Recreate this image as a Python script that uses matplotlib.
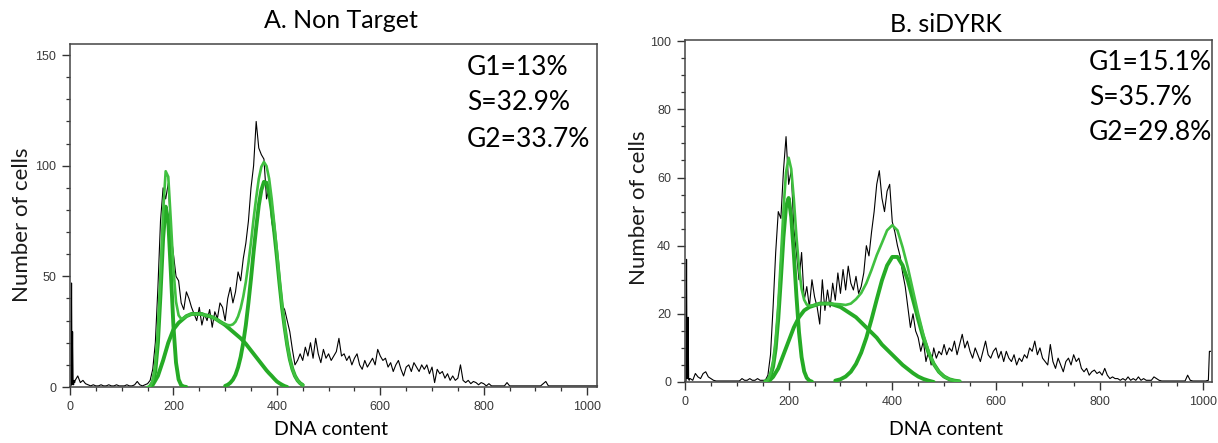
import numpy as np
import matplotlib
matplotlib.use("Agg")
import matplotlib.pyplot as plt
from matplotlib.ticker import MultipleLocator

# ---------------- Data ----------------
titles = ["A. Non Target", "B. siDYRK"]
labels_A = ["G1=13%", "S=32.9%", "G2=33.7%"]
labels_B = ["G1=15.1%", "S=35.7%", "G2=29.8%"]
xlabel = "DNA content"
ylabel = "Number of cells"

# Panel A histogram (black line)
histA_start_x = [0, 2, 3, 4, 5, 6, 7, 8, 9]
histA_start_y = [0, 0.5, 47, 1, 25, 2, 1, 3, 2]
histA_step = 5
histA_from = 10
histA_y = [
    3, 5, 2, 3, 1.5, 1, 0.5, 1, 0.5, 0.5, 1, 0.5, 0.5, 1, 0.5, 0.5, 1, 0.5, 0.5, 0.5,
    1, 0.5, 0.5, 1, 2.5, 1, 0.5, 1,
    1.5, 3, 8, 20, 45, 75, 90, 85, 92, 70, 60, 50, 48, 38, 35, 43, 40, 36, 33, 30,
    36, 28, 33, 30, 35, 27, 34, 31, 38, 36, 30, 40, 45, 38, 43, 52, 48, 58, 65, 75,
    90, 100, 120, 108, 105, 103, 85, 90, 75, 68, 60, 45, 37, 35, 30, 25, 17, 10, 12, 15,
    12, 18, 14, 20, 13, 22, 15, 11, 17, 13, 15, 12, 14, 16, 22, 14, 15, 12, 14, 10,
    13, 15, 10, 8, 12, 9, 11, 13, 10, 17, 14,
    12, 13, 9, 11, 7, 10, 12, 8, 5, 9, 10, 7, 11, 9, 7, 10, 8, 10, 6, 9,
    2, 8, 6, 7, 4, 6, 3, 5, 3, 4, 10, 3,
    2, 3, 1.5, 2.5, 2, 1, 2, 1.5, 0.5, 1.5, 0.5, 0.5, 0.5, 0.5, 0.5, 0.5, 2, 0.5, 0.5, 0.5,
    0.5, 0.5, 0.5, 0.5, 0.5, 0.5, 0.5, 0.5, 0.5, 0.5, 1.5, 2.5, 0.5, 0.5,
    0.5, 0.5, 0.5, 0.5, 0.5, 0.5, 0.5, 0.5, 0.5, 0.5, 0.5, 0.5, 0.5, 0.5, 0.5, 0.5, 0.5, 0.5,
]

# Panel A model fit (green)
g1A_x = [155, 160, 165, 170, 175, 180, 185, 190, 195, 200, 205, 210, 215, 220, 225]
g1A_y = [0.4, 2, 7.2, 20, 42, 67, 81.5, 75, 52, 27.5, 11, 3.4, 0.8, 0.2, 0]
sA_x = list(range(155, 421, 5))
sA_y = [0, 1, 3, 5, 8.5, 12, 16, 20, 23, 26, 27.5, 29, 30, 31, 32, 32.5, 33, 33, 33, 33,
        33, 32.5, 32.3, 32, 31.5, 31, 30.3, 29.5, 28.8, 28, 27, 26, 25, 24, 23, 22, 20.8, 19.5,
        18, 16.5, 15, 13.5, 12, 10.5, 9, 7.5, 6.2, 5, 3.7, 2.5, 1.7, 1, 0.4, 0]
g2A_x = list(range(300, 451, 5))
g2A_y = [0.5, 1, 1.9, 3.3, 5.5, 8.9, 13.6, 20, 28, 38, 49, 61, 72, 82, 89, 92.7, 92.3, 88,
         80, 70, 59, 47, 36, 27, 19, 12.6, 8.1, 5, 3, 1.7, 0.9]
totA_x = list(range(150, 451, 5))
totA_y = [0, 0.4, 3, 10.2, 25, 50.5, 79, 97.5, 95, 75, 53.5, 38.5, 32.4, 30.8, 31.2, 32, 32.5, 33, 33, 33,
          33, 33, 32.5, 32.3, 32, 31.5, 31, 30.3, 29.5, 28.8, 28.5, 28, 27.9, 28.3, 29.5, 31.9, 35.6, 40.8,
          47.5, 56, 65.5, 76, 85.5, 94, 99.5, 101.7, 99.8, 94.2, 85, 73.7, 61.5, 48.7, 37, 27.4,
          19, 12.6, 8.1, 5, 3, 1.7, 0.9]

# Panel B histogram (black line)
histB_start_x = [0, 2, 3, 4, 5, 6, 7, 8, 9]
histB_start_y = [0, 0.3, 36, 1, 1, 19, 1, 0.5, 1]
histB_step = 5
histB_from = 10
histB_y = [
    1, 0.5, 2.5, 1.5, 1, 2.5, 3, 1.5, 1, 0.5, 0.3, 0.3, 0.3, 0.3, 0.3, 0.3, 0.3, 0.3, 0.3, 0.3,
    1, 0.5, 0.5, 1, 0.5, 0.5, 1, 0.5, 0.5,
    0.5, 2, 8, 22, 38, 50, 48, 62, 72, 58, 62, 45, 38, 30, 38, 24, 28, 22, 30, 25,
    22, 17, 30, 21, 27, 22, 29, 24, 32, 26, 33, 27, 34, 29, 27, 31, 26, 28, 32, 40,
    37, 44, 50, 58, 62, 54, 50, 56, 58, 47, 44, 40, 37, 32, 28, 22, 16, 20, 15, 13,
    9, 12, 6, 9, 5, 10, 7, 9, 8, 11, 8, 10, 9, 12, 8, 11, 14, 10, 12, 9,
    7, 10, 8, 6, 9, 12, 8, 7, 9, 10, 7, 9, 6, 9,
    7, 6, 8, 5, 7, 6, 8, 7, 10, 9, 12, 8, 10, 7, 6, 5, 11, 6, 4, 7,
    5, 3, 6, 7, 5, 8, 6, 7, 4, 3, 4, 2, 3, 3.5, 2.5, 3,
    2, 4, 2, 1, 1.5, 1, 1, 0.5, 1, 0.5, 1.5, 0.5, 1, 0.5, 1.5, 0.5, 1, 0.5, 0.5, 0.5,
    1.5, 1, 0.5, 0.3, 0.3, 0.3, 0.3, 0.3, 0.3, 0.3, 0.3, 0.3, 0.3, 2, 0.5, 0.3, 0.3, 0.3, 0.3, 0.3,
    0.3,
]
histB_end_x = [1010, 1012, 1014]
histB_end_y = [0.5, 9, 9]

# Panel B model fit (green)
g1B_x = list(range(155, 246, 5))
g1B_y = [0.2, 0.6, 1.8, 4.5, 9.8, 18.6, 30.2, 42.5, 51.5, 54, 48.5, 37.7, 25.3, 14.6, 7.3, 3.1, 1.2, 0.4, 0.1]
sB_x = list(range(160, 481, 10))
sB_y = [0, 1.5, 4, 8, 12, 16, 19, 21, 22, 22.5, 23, 23, 23, 22.5, 22, 21, 20, 19, 17.5, 16,
        14.5, 13, 11, 9.5, 8, 6.5, 5, 3.8, 2.6, 1.6, 0.9, 0.4, 0]
g2B_x = list(range(290, 531, 10))
g2B_y = [0.4, 0.8, 1.6, 3, 5.3, 8.6, 13, 18.4, 24.2, 29.8, 34.2, 36.7, 36.7, 34.2, 29.8, 24.2,
         18.4, 13, 8.6, 5.3, 3, 1.6, 0.8, 0.4, 0.2]
totB_x = [155, 160, 165, 170, 175, 180, 185, 190, 195, 200, 205, 210, 215, 220, 225, 230, 235, 240, 245,
          250, 260, 270, 280, 290, 300, 310, 320, 330, 340, 350, 360, 370, 380, 390, 400, 410, 420,
          430, 440, 450, 460, 470, 480, 490, 500, 510, 520, 530]
totB_y = [0.2, 0.6, 2.5, 6, 12.5, 22.6, 36.2, 50.5, 61.5, 65.8, 62.5, 53.7, 42.8, 33.6, 27.3, 24.1, 22.7, 22.4, 22.4,
          22.5, 23, 23, 23, 22.9, 22.8, 22.6, 23, 24.3, 26.1, 29, 32.9, 37.2, 40.8, 44.5, 46, 44.5, 39.5,
          33.6, 26.8, 20, 13.9, 9, 5.3, 3, 1.6, 0.8, 0.4, 0.2]

# ---------------- Plot ----------------
W, H = 1218, 443
fig = plt.figure(figsize=(W / 100, H / 100), dpi=100)

GREEN = "#26ab26"
GREEN_T = "#40c040"
FONT = "Lato"


def make_hist(start_x, start_y, frm, step, ys, end_x=None, end_y=None):
    x = list(start_x) + list(frm + step * np.arange(len(ys)))
    y = list(start_y) + list(ys)
    if end_x is not None:
        x += list(end_x)
        y += list(end_y)
    return np.array(x), np.array(y)


def panel(rect_px, xlim, ylim, ymaj, ymin, title, labels, hist, comps, total,
          title_pos, txt_x, txt_ys, xl_pos, yl_pos):
    l, r, t, b = rect_px
    ax = fig.add_axes([l / W, 1 - b / H, (r - l) / W, (b - t) / H])
    hx, hy = hist
    ax.plot(hx, hy, color="black", lw=0.8, zorder=2, clip_on=False)
    for cx, cy in comps:
        ax.plot(cx, cy, color=GREEN, lw=2.8, zorder=3, solid_capstyle="round")
    ax.plot(total[0], total[1], color=GREEN_T, lw=1.9, zorder=4)
    ax.set_xlim(*xlim)
    ax.set_ylim(*ylim)
    ax.xaxis.set_major_locator(MultipleLocator(200))
    ax.xaxis.set_minor_locator(MultipleLocator(50))
    ax.yaxis.set_major_locator(MultipleLocator(ymaj))
    ax.yaxis.set_minor_locator(MultipleLocator(ymin))
    ax.tick_params(which="major", length=6, width=1.0, color="#333333",
                   labelsize=9, labelcolor="#3a3a3a", pad=4)
    ax.tick_params(which="minor", length=3, width=0.9, color="#333333")
    for s in ax.spines.values():
        s.set_color("#444444")
        s.set_linewidth(1.1)
    for lab in ax.get_xticklabels() + ax.get_yticklabels():
        lab.set_fontfamily("Liberation Sans")
    ax.text(title_pos[0], title_pos[1], title, transform=ax.transAxes, fontsize=18,
            family=FONT, ha="center", va="baseline")
    ax.text(xl_pos[0], xl_pos[1], xlabel, transform=ax.transAxes, fontsize=14,
            family=FONT, ha="center", va="baseline")
    ax.text(yl_pos[0], yl_pos[1], ylabel, transform=ax.transAxes, fontsize=16,
            family=FONT, ha="center", va="center", rotation=90, color="#1a1a1a")
    for lab, yy in zip(labels, txt_ys):
        ax.text(txt_x, yy, lab, transform=ax.transAxes, fontsize=19, family=FONT,
                ha="left", va="baseline")
    return ax


histA = make_hist(histA_start_x, histA_start_y, histA_from, histA_step, histA_y)
histB = make_hist(histB_start_x, histB_start_y, histB_from, histB_step, histB_y,
                  histB_end_x, histB_end_y)

panel((70, 597, 44, 387), (0, 1019), (0, 155), 50, 10, titles[0], labels_A, histA,
      [(g1A_x, g1A_y), (sA_x, sA_y), (g2A_x, g2A_y)], (totA_x, totA_y),
      (0.514, 1.047), 0.753, [0.910, 0.808, 0.700], (0.495, -0.140), (-0.092, 0.472))
panel((685, 1212, 39.5, 382), (0, 1017), (0, 100.5), 20, 5, titles[1], labels_B, histB,
      [(g1B_x, g1B_y), (sB_x, sB_y), (g2B_x, g2B_y)], (totB_x, totB_y),
      (0.495, 1.022), 0.767, [0.911, 0.809, 0.707], (0.495, -0.155), (-0.087, 0.508))

fig.savefig("out.png", dpi=100)
